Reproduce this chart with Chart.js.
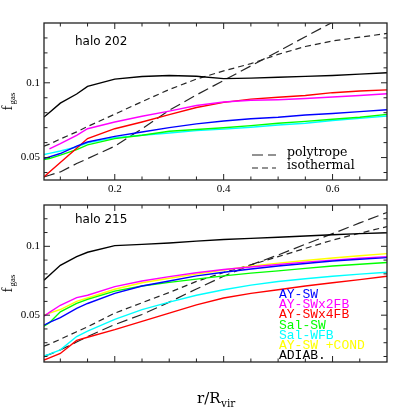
<!DOCTYPE html>
<html><head><meta charset="utf-8">
<script src="https://cdn.jsdelivr.net/npm/chart.js@4.4.1/dist/chart.umd.min.js"></script>
<style>
html,body{margin:0;padding:0;background:#fff;}
.pane{position:absolute;left:0;top:0;width:409px;height:409px;}
</style></head><body>
<div class="pane"><canvas id="c1"></canvas></div>
<div class="pane"><canvas id="c2"></canvas></div>
<script>
// ---------- data ----------
const r = [0.07,0.08,0.1,0.13,0.15,0.2,0.25,0.3,0.35,0.4,0.45,0.5,0.55,0.6,0.65,0.7];

const seriesNames = ['AY-SW','AY-SWx2FB','AY-SWx4FB','Sal-SW','Sal-WFB','AY-SW +COND','ADIAB.'];
const modelNames = ['polytrope','isothermal'];

// halo 202
const aysw202   = [0.0493,0.0505,0.0527,0.0576,0.0604,0.0642,0.0671,0.0700,0.0725,0.0745,0.0760,0.0770,0.0785,0.0795,0.0807,0.0820];
const x2fb202   = [null,  0.0558,0.0593,0.0649,0.0693,0.0738,0.0776,0.0811,0.0848,0.0872,0.0883,0.0887,0.0895,0.0905,0.0915,0.0927];
const x4fb202   = [0.0371,0.0403,0.0467,0.0563,0.0627,0.0693,0.0738,0.0787,0.0835,0.0869,0.0891,0.0903,0.0915,0.0934,0.0945,0.0953];
const salsw202  = [0.0487,0.0494,0.0516,0.0553,0.0585,0.0627,0.0649,0.0676,0.0688,0.0699,0.0714,0.0730,0.0742,0.0756,0.0770,0.0789];
const salwfb202 = [0.0520,0.0528,0.0544,0.0571,0.0598,0.0633,0.0649,0.0664,0.0680,0.0690,0.0703,0.0718,0.0730,0.0748,0.0762,0.0778];
const adiab202  = [0.0771,0.0802,0.0864,0.0925,0.0976,0.1025,0.1042,0.1049,0.1044,0.1028,0.1031,0.1037,0.1043,0.1049,0.1058,0.1067];
const poly202   = [0.0371,0.0382,0.0404,0.0460,0.0493,0.0576,0.0693,0.0816,0.0919,0.1016,0.1113,0.1210,0.1308,0.1405,null,null];
const iso202    = [0.0576,0.0590,0.0624,0.0672,0.0708,0.0790,0.0874,0.0955,0.1025,0.1080,0.1128,0.1190,0.1243,0.1280,0.1305,0.1330];

// halo 215
const aysw215   = [0.0427,0.0447,0.0483,0.0550,0.0585,0.0658,0.0712,0.0748,0.0785,0.0812,0.0835,0.0857,0.0875,0.0893,0.0906,0.0918];
const x2fb215   = [0.0493,0.0520,0.0572,0.0628,0.0645,0.0707,0.0748,0.0780,0.0808,0.0832,0.0850,0.0868,0.0885,0.0900,0.0913,0.0925];
const x4fb215   = [0.0174,0.0190,0.0222,0.0317,0.0340,0.0395,0.0455,0.0515,0.0575,0.0625,0.0658,0.0685,0.0712,0.0735,0.0758,0.0783];
const salsw215  = [0.0420,0.0445,0.0524,0.0585,0.0615,0.0675,0.0712,0.0738,0.0762,0.0785,0.0805,0.0822,0.0840,0.0857,0.0870,0.0883];
const salwfb215 = [0.0203,0.0217,0.0248,0.0345,0.0385,0.0470,0.0540,0.0595,0.0645,0.0685,0.0718,0.0745,0.0765,0.0783,0.0798,0.0812];
const cond215   = [0.0500,0.0515,0.0541,0.0600,0.0625,0.0688,0.0735,0.0768,0.0798,0.0828,0.0855,0.0878,0.0897,0.0915,0.0932,0.0947];
const adiab215  = [0.0754,0.0790,0.0862,0.0925,0.0957,0.1005,0.1014,0.1024,0.1038,0.1050,0.1058,0.1066,0.1075,0.1084,0.1092,0.1099];
const poly215   = [0.0203,0.0215,0.0248,0.0305,0.0345,0.0432,0.0505,0.0595,0.0690,0.0783,0.0865,0.0937,0.1015,0.1092,0.1170,0.1246];
const iso215    = [0.0275,0.0290,0.0325,0.0380,0.0415,0.0515,0.0590,0.0665,0.0745,0.0810,0.0865,0.0925,0.0985,0.1045,0.1095,0.1143];

// axes
const xRange = [0.07, 0.70];
const yRange202 = [0.035, 0.14];
const yRange215 = [0.016, 0.13];
const xMajorTicks = [0.2, 0.4, 0.6];
const xTickLabels = ['0.2', '0.4', '0.6'];
const xMinorTicks = [0.1,0.15,0.25,0.3,0.35,0.45,0.5,0.55,0.65];
const yMajorTicks = [0.05, 0.1];
const yTickLabels = ['0.05', '0.1'];
const yMinorTicks202 = [0.04,0.06,0.07,0.08,0.09,0.11,0.12,0.13];
const yMinorTicks215 = [0.02,0.03,0.04,0.06,0.07,0.08,0.09,0.11,0.12];

const colors = ['#0000ff','#ff00ff','#ff0000','#00ff00','#00ffff','#ffff00','#000000'];

// ---------- helpers ----------
function pts(arr){ const o=[]; arr.forEach((v,i)=>{ if(v!==null) o.push({x:r[i], y:v}); }); return o; }
function solid(label, arr, color){ return {label, data:pts(arr), borderColor:color, borderWidth:1.4, pointRadius:0, tension:0, fill:false}; }
function dashed(label, arr, dash){ return {label, data:pts(arr), borderColor:'#262626', borderWidth:1.2, borderDash:dash, pointRadius:0, tension:0, fill:false}; }
const LONG = [11,5], SHORT = [6,4];

const panelPlugin = {
  id:'panel',
  afterDatasetsDraw(chart, args, o){
    const ctx = chart.ctx, a = chart.chartArea, xs = chart.scales.x, ys = chart.scales.y;
    ctx.save();
    ctx.strokeStyle = '#222';
    ctx.lineWidth = 1;
    const seg=(x1,y1,x2,y2)=>{ctx.beginPath();ctx.moveTo(x1,y1);ctx.lineTo(x2,y2);ctx.stroke();};
    xMajorTicks.concat(xMinorTicks).forEach(v=>{
      const L = xMajorTicks.includes(v)?6:3.5, p = xs.getPixelForValue(v);
      seg(p,a.bottom,p,a.bottom-L); seg(p,a.top,p,a.top+L);
    });
    yMajorTicks.concat(o.yMinor).forEach(v=>{
      const L = yMajorTicks.includes(v)?6:3.5, p = ys.getPixelForValue(v);
      seg(a.left,p,a.left+L,p); seg(a.right,p,a.right-L,p);
    });
    ctx.lineWidth = 1.3;
    ctx.strokeRect(a.left, a.top, a.right-a.left, a.bottom-a.top);

    ctx.fillStyle = '#000';
    ctx.font = '12px "DejaVu Sans"';
    ctx.textAlign='left'; ctx.textBaseline='middle';
    ctx.fillText(o.halo, 75, a.top + o.haloDy);

    // y title f_gas
    const cy = (a.top+a.bottom)/2;
    ctx.save(); ctx.translate(12, cy); ctx.rotate(-Math.PI/2);
    ctx.textBaseline='alphabetic';
    ctx.font='15px "Liberation Serif"'; const w1 = ctx.measureText('f').width;
    ctx.font='9px "Liberation Serif"'; const w2 = ctx.measureText('gas').width;
    const x0 = -(w1+w2+1)/2;
    ctx.font='15px "Liberation Serif"'; ctx.fillText('f', x0, 0);
    ctx.font='9px "Liberation Serif"'; ctx.fillText('gas', x0+w1+1, 3);
    ctx.restore();

    const ds = chart.data.datasets;
    if (o.legend === 'models'){
      ctx.font='12.5px "DejaVu Serif"'; ctx.textBaseline='middle';
      const yy=[153,166];
      o.modelIdx.forEach((di,k)=>{
        const d = ds[di];
        ctx.strokeStyle = d.borderColor; ctx.lineWidth = 1.1; ctx.setLineDash(d.borderDash);
        seg(252, yy[k]+2, 276, yy[k]+2);
        ctx.setLineDash([]);
        ctx.fillStyle='#000'; ctx.fillText(d.label, 287, yy[k]);
      });
    }
    if (o.legend === 'series'){
      ctx.font='13px "Liberation Mono"'; ctx.textBaseline='middle';
      o.seriesIdx.forEach((di,k)=>{
        const d = ds[di];
        ctx.fillStyle = d.borderColor;
        ctx.fillText(d.label, 279, 294.5 + k*10.2);
      });
    }
    if (o.xTitle){
      ctx.fillStyle='#000'; ctx.textBaseline='alphabetic';
      ctx.font='15px "DejaVu Serif"';
      ctx.fillText('r/R', 197, 403);
      const w = ctx.measureText('r/R').width;
      ctx.font='10.5px "DejaVu Serif"';
      ctx.fillText('vir', 197 + w + 0.5, 406.5);
    }
    ctx.restore();
  }
};

function makeOptions(yRange, showX, pad, plug){
  return {
    responsive:true, maintainAspectRatio:false, animation:false,
    layout:{padding:pad},
    plugins:{legend:{display:false}, tooltip:{enabled:false}, panel:plug},
    scales:{
      x:{type:'linear', min:xRange[0], max:xRange[1],
         grid:{display:false, drawTicks:false}, border:{display:false},
         afterBuildTicks:s=>{ s.ticks = xMajorTicks.map(v=>({value:v})); },
         afterFit:s=>{ s.height = showX?20:0; },
         ticks:{display:showX, padding:3, color:'#000', font:{family:'"Liberation Serif"', size:11},
                callback:(v)=>{ const i = xMajorTicks.findIndex(t=>Math.abs(t-v)<1e-6); return i>=0?xTickLabels[i]:''; }}},
      y:{type:'linear', min:yRange[0], max:yRange[1],
         grid:{display:false, drawTicks:false}, border:{display:false},
         afterBuildTicks:s=>{ s.ticks = yMajorTicks.map(v=>({value:v})); },
         afterFit:s=>{ s.width = 44; },
         ticks:{padding:4, color:'#000', font:{family:'"Liberation Serif"', size:11},
                callback:(v)=>{ const i = yMajorTicks.findIndex(t=>Math.abs(t-v)<1e-6); return i>=0?yTickLabels[i]:''; }}}
    }
  };
}

new Chart(document.getElementById('c1'), {
  type:'line',
  data:{datasets:[
    solid(seriesNames[0], aysw202, colors[0]),
    solid(seriesNames[1], x2fb202, colors[1]),
    solid(seriesNames[2], x4fb202, colors[2]),
    solid(seriesNames[3], salsw202, colors[3]),
    solid(seriesNames[4], salwfb202, colors[4]),
    solid(seriesNames[6], adiab202, colors[6]),
    dashed(modelNames[0], poly202, LONG),
    dashed(modelNames[1], iso202, SHORT)
  ]},
  options: makeOptions(yRange202, true, {top:23, right:22, bottom:209, left:0},
    {halo:'halo 202', haloDy:19, legend:'models', modelIdx:[6,7], yMinor:yMinorTicks202}),
  plugins:[panelPlugin]
});

new Chart(document.getElementById('c2'), {
  type:'line',
  data:{datasets:[
    solid(seriesNames[0], aysw215, colors[0]),
    solid(seriesNames[1], x2fb215, colors[1]),
    solid(seriesNames[2], x4fb215, colors[2]),
    solid(seriesNames[3], salsw215, colors[3]),
    solid(seriesNames[4], salwfb215, colors[4]),
    solid(seriesNames[5], cond215, colors[5]),
    solid(seriesNames[6], adiab215, colors[6]),
    dashed(modelNames[0], poly215, LONG),
    dashed(modelNames[1], iso215, SHORT)
  ]},
  options: makeOptions(yRange215, false, {top:205, right:22, bottom:47, left:0},
    {halo:'halo 215', haloDy:15, legend:'series', seriesIdx:[0,1,2,3,4,5,6], yMinor:yMinorTicks215, xTitle:true}),
  plugins:[panelPlugin]
});
</script>
</body></html>
